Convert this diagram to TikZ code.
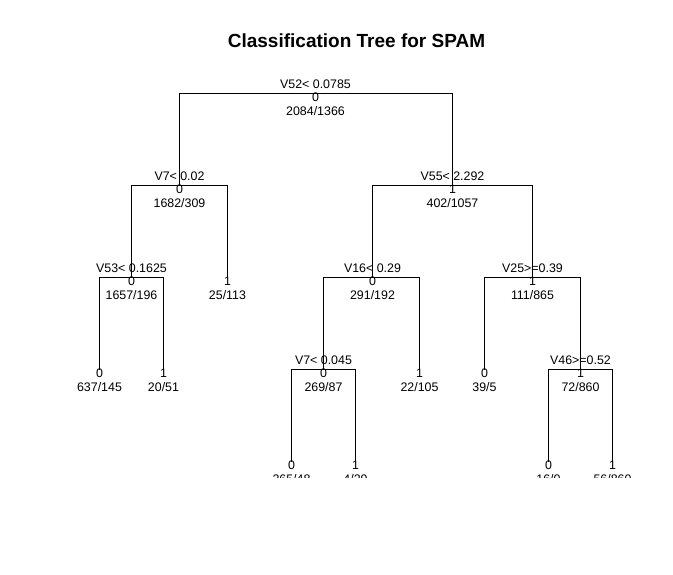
\documentclass[tikz,border=0pt]{standalone}
\usepackage{fontspec}
\setmainfont{Liberation Sans}
\usepackage{tikz}

\begin{document}
\begin{tikzpicture}[x=1pt, y=1pt, yscale=-1,
  branch/.style={black, line width=1pt},
  txt/.style={inner sep=0pt, anchor=base, font=\fontsize{12.4}{14}\selectfont},
  rulelab/.style={txt, yshift=4.9pt},
  classlab/.style={txt, yshift=-8.1pt},
  countlab/.style={txt, yshift=-22.1pt}]
\useasboundingbox (0,0) rectangle (673,574);
\node[inner sep=0pt, anchor=base, font=\fontsize{19}{22}\bfseries] (title) at (356.5,47.8) {Classification Tree for SPAM};
\begin{scope}[shift={(0.5,0.5)}]
\coordinate (v52) at (315,93);
\coordinate (v7) at (179,185);
\coordinate (v55) at (452,185);
\coordinate (v53) at (131,277);
\coordinate (l25) at (227,277);
\coordinate (v16) at (372,277);
\coordinate (v25) at (532,277);
\coordinate (l637) at (99,369);
\coordinate (l20) at (163,369);
\coordinate (v7b) at (323,369);
\coordinate (l22) at (419,369);
\coordinate (l39) at (484,369);
\coordinate (v46) at (580,369);
\coordinate (l265) at (291,461);
\coordinate (l4) at (355,461);
\coordinate (l16) at (548,461);
\coordinate (l56) at (612,461);
\end{scope}
\draw[branch] (v7) |- (v52) -| (v55);
\draw[branch] (v53) |- (v7) -| (l25);
\draw[branch] (v16) |- (v55) -| (v25);
\draw[branch] (l637) |- (v53) -| (l20);
\draw[branch] (v7b) |- (v16) -| (l22);
\draw[branch] (l39) |- (v25) -| (v46);
\draw[branch] (l265) |- (v7b) -| (l4);
\draw[branch] (l16) |- (v46) -| (l56);
\node[rulelab] (r52) at (v52) {V52< 0.0785};
\node[classlab] (c52) at (v52) {0};
\node[countlab] (n52) at (v52) {2084/1366};
\node[rulelab] (r7) at (v7) {V7< 0.02};
\node[classlab] (c7) at (v7) {0};
\node[countlab] (n7) at (v7) {1682/309};
\node[rulelab] (r55) at (v55) {V55< 2.292};
\node[classlab] (c55) at (v55) {1};
\node[countlab] (n55) at (v55) {402/1057};
\node[rulelab] (r53) at (v53) {V53< 0.1625};
\node[classlab] (c53) at (v53) {0};
\node[countlab] (n53) at (v53) {1657/196};
\node[classlab] (c25l) at (l25) {1};
\node[countlab] (n25l) at (l25) {25/113};
\node[rulelab] (r16) at (v16) {V16< 0.29};
\node[classlab] (c16) at (v16) {0};
\node[countlab] (n16) at (v16) {291/192};
\node[rulelab] (r25) at (v25) {V25>=0.39};
\node[classlab] (c25) at (v25) {1};
\node[countlab] (n25) at (v25) {111/865};
\node[classlab] (c637) at (l637) {0};
\node[countlab] (n637) at (l637) {637/145};
\node[classlab] (c20) at (l20) {1};
\node[countlab] (n20) at (l20) {20/51};
\node[rulelab] (r7b) at (v7b) {V7< 0.045};
\node[classlab] (c7b) at (v7b) {0};
\node[countlab] (n7b) at (v7b) {269/87};
\node[classlab] (c22) at (l22) {1};
\node[countlab] (n22) at (l22) {22/105};
\node[classlab] (c39) at (l39) {0};
\node[countlab] (n39) at (l39) {39/5};
\node[rulelab] (r46) at (v46) {V46>=0.52};
\node[classlab] (c46) at (v46) {1};
\node[countlab] (n46) at (v46) {72/860};
\node[classlab] (c265) at (l265) {0};
\node[classlab] (c4) at (l4) {1};
\node[classlab] (c16l) at (l16) {0};
\node[classlab] (c56) at (l56) {1};
\begin{scope}
\clip (0,0) rectangle (673,477.5);
\node[countlab] (n265) at (l265) {265/48};
\node[countlab] (n4) at (l4) {4/29};
\node[countlab] (n16l) at (l16) {16/0};
\node[countlab] (n56) at (l56) {56/860};
\end{scope}
\end{tikzpicture}
\end{document}
